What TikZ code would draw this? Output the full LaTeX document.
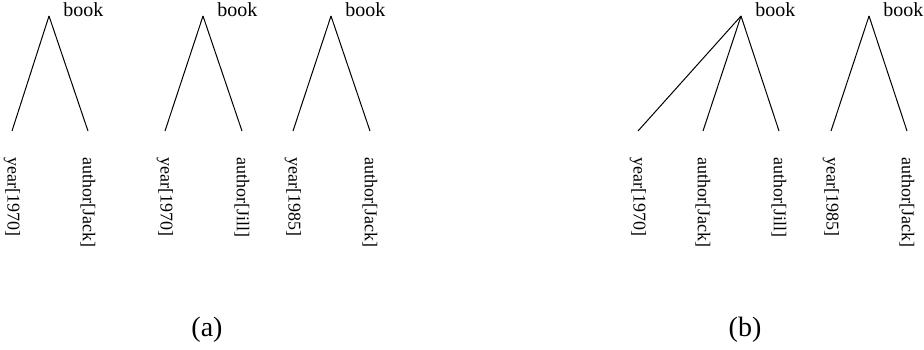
\documentclass[tikz,border=0pt]{standalone}
\usepackage{fontspec}
\setmainfont{Liberation Serif}
\usetikzlibrary{positioning}
\tikzset{
    ast/.style={
        line width=0.5pt     % dünne Kanten wie im Baum üblich
    },
    wurzel/.style={
        anchor=base west,
        inner sep=0pt,
        font=\fontsize{10}{12}\selectfont
    },
    blatt/.style={
        rotate=-90,          % Blatttexte laufen von oben nach unten
        anchor=west,
        inner sep=0pt,
        font=\fontsize{9}{11}\selectfont
    },
    unterschrift/.style={
        font=\fontsize{14}{16}\selectfont
    }
}

\begin{document}
\begin{tikzpicture}[x=0.5pt, y=-0.5pt]

    % Rahmen: 1 Einheit = 1 Bildpunkt, y zeigt nach unten
    \useasboundingbox (0,0) rectangle (924,349);

    % Wurzeln der fünf Bäume
    \foreach \w/\x in {a1/49, a2/203, a3/331, b1/741, b2/869} {
        \coordinate (\w) at (\x,16);
        \node[wurzel] (\w-book) at ([xshift=7pt]\w) {book};
    }

    % Blätter: Elternknoten / Nummer / x-Position / Text
    \foreach \w/\n/\x/\t in {a1/1/12/{year[1970]}, a1/2/88/{author[Jack]},
                             a2/1/165/{year[1970]}, a2/2/242/{author[Jill]},
                             a3/1/293/{year[1985]}, a3/2/370/{author[Jack]},
                             b1/1/638/{year[1970]}, b1/2/703/{author[Jack]}, b1/3/779/{author[Jill]},
                             b2/1/831/{year[1985]}, b2/2/907/{author[Jack]}} {
        \coordinate (\w-\n) at (\x,131);
        \node[blatt] (\w-\n-text) at (\x,157) {\t};
        \draw[ast] (\w) -- (\w-\n);
    }

    % Bildunterschriften
    \node[unterschrift] (cap-a) at (207,330) {(a)};
    \node[unterschrift] (cap-b) at (745,330) {(b)};

\end{tikzpicture}
\end{document}
